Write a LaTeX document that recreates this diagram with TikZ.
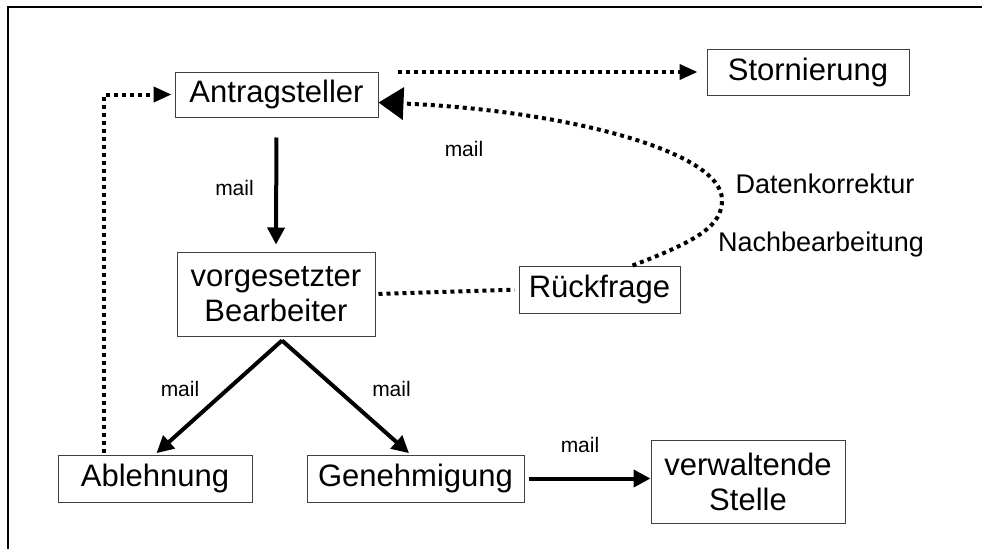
\documentclass[tikz,border=0pt]{standalone}
\usepackage{fontspec}
\setmainfont{Liberation Sans}
\usetikzlibrary{arrows.meta}

\tikzset{
	kasten/.style={draw=black!75, line width=1pt, align=center, inner sep=0pt, font=\fontsize{31}{35}\selectfont},
	klein/.style={font=\fontsize{21}{24}\selectfont},
	mittel/.style={font=\fontsize{27}{31}\selectfont},
	pfeil/.style={line width=4pt, -{Triangle[length=17pt,width=17pt]}},
	punkte/.style={line width=4pt, dash pattern=on 4pt off 4pt},
}

\begin{document}
\begin{tikzpicture}[x=1pt,y=-1pt]
	\fill [white] (0,0) rectangle (982,549);
	\useasboundingbox (0,0) rectangle (982,549);
	\draw [line width=2pt] (7.5,549) -- (7.5,6.5) -- (982,6.5);
	% Kaesten
	\node [kasten, minimum width=203pt, minimum height=45pt] (ant) at (276.5,94.5) {Antragsteller};
	\node [kasten, minimum width=202pt, minimum height=46pt] (stor) at (808,72) {Stornierung};
	\node [kasten, minimum width=198pt, minimum height=84pt] (vorg) at (276,294) {vorgesetzter\\Bearbeiter};
	\node [kasten, minimum width=161pt, minimum height=47pt] (rf) at (599.5,289.5) {Rückfrage};
	\node [kasten, minimum width=194pt, minimum height=47pt] (abl) at (155,478.5) {Ablehnung};
	\node [kasten, minimum width=217pt, minimum height=47pt] (gen) at (415.5,478.5) {Genehmigung};
	\node [kasten, minimum width=194pt, minimum height=83pt] (verw) at (748,481.5) {verwaltende\\Stelle};
	% mail
	\draw [pfeil, shorten <=20pt, shorten >=7pt] (ant.south) -- (vorg.north);
	\node [klein] (m1) at (234.5,187.5) {mail};
	\draw [pfeil, shorten >=2pt] ([xshift=6pt,yshift=-4pt]vorg.south) -- (abl.north);
	\node [klein] (m2) at (180,388.5) {mail};
	\draw [pfeil, shorten >=2pt] ([xshift=6pt,yshift=-4pt]vorg.south) -- ([xshift=-5pt]gen.north);
	\node [klein] (m3) at (391.5,388.5) {mail};
	\draw [pfeil, shorten <=4pt] (gen.east) -- (gen.east -| verw.west);
	\node [klein] (m4) at (580,445) {mail};
	% gepunktet
	\draw [punkte, -{Triangle[length=18pt,width=15pt]}, shorten >=3pt] ([xshift=-51pt,yshift=2pt]abl.north) |- (ant.west);
	\draw [punkte, -{Triangle[length=18pt,width=15pt]}, shorten >=9pt] ([xshift=19pt]ant.east |- stor.west) -- (stor.west);
	\draw [punkte, shorten <=3pt, shorten >=4pt] (vorg.east) -- (rf.west);
	\draw [punkte, -{Triangle[length=25pt,width=32pt]}] ([xshift=33pt]rf.north) .. controls (700,240) and (722,225) .. (722,200) .. controls (722,150) and (560,110) .. ([yshift=-8pt]ant.east);
	\node [klein] (m5) at (464,148.5) {mail};
	\node [mittel] (dk) at (825,184) {Datenkorrektur};
	\node [mittel] (nb) at (821,245) {Nachbearbeitung};
\end{tikzpicture}
\end{document}
